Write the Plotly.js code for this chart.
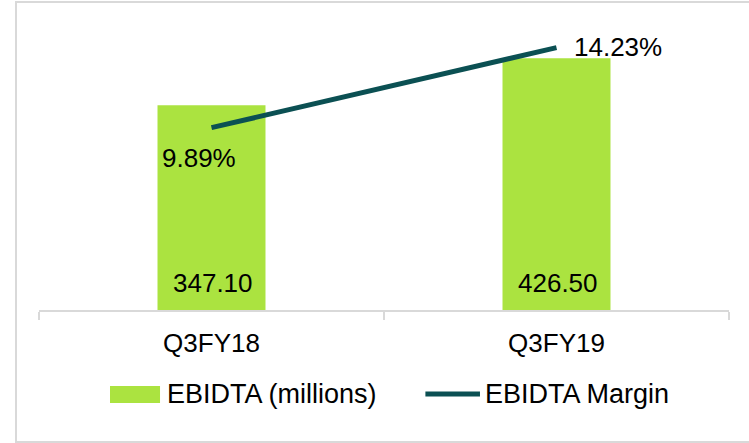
<!DOCTYPE html>
<html>
<head>
<meta charset="utf-8">
<script src="https://cdn.plot.ly/plotly-3.0.1.min.js"></script>
<style>
  html, body { margin: 0; padding: 0; background: #ffffff; }
  #chart { width: 749px; height: 443px; }
</style>
</head>
<body>
<div id="chart"></div>
<script>
// ---- data ----
var categories = ["Q3FY18", "Q3FY19"];
var ebidta = [347.10, 426.50];          // EBIDTA (millions)
var ebidtaMargin = [9.89, 14.23];       // EBIDTA Margin (%)
var seriesNames = ["EBIDTA (millions)", "EBIDTA Margin"];

// ---- styles ----
var FONT = "Liberation Sans, Arial, Helvetica, sans-serif";
var barColor = "#ABE340";
var lineColor = "#0B5053";
var gridGray = "#D9D9D9";
var labelSize = 26;
// label offsets for margin labels (px)
var marginLabelStyle = [
  {xshift: -13, yshift: -30, xanchor: "center"},
  {xshift: 15, yshift: 1, xanchor: "left"}
];

var traces = [
  {
    type: "bar",
    name: seriesNames[0],
    x: categories,
    y: ebidta,
    marker: {color: barColor},
    width: 0.313,
    yaxis: "y",
    hoverinfo: "skip",
    showlegend: false
  },
  {
    type: "scatter",
    mode: "lines",
    name: seriesNames[1],
    x: categories,
    y: ebidtaMargin,
    line: {color: lineColor, width: 5},
    yaxis: "y2",
    hoverinfo: "skip",
    showlegend: false
  }
];

var annotations = [];
categories.forEach(function (c, i) {
  annotations.push({
    x: c, y: 0, xref: "x", yref: "y",
    text: ebidta[i].toFixed(2),
    showarrow: false, yanchor: "middle", xanchor: "center",
    yshift: 27, xshift: 1,
    font: {family: FONT, size: labelSize, color: "#000000"}
  });
  var s = marginLabelStyle[i];
  annotations.push({
    x: c, y: ebidtaMargin[i], xref: "x", yref: "y2",
    text: ebidtaMargin[i].toFixed(2) + "%",
    showarrow: false, yanchor: "middle", xanchor: s.xanchor,
    xshift: s.xshift, yshift: s.yshift,
    font: {family: FONT, size: labelSize, color: "#000000"}
  });
});

// ---- legend (drawn as layout items) ----
var legendY = -0.2847;
annotations.push({
  xref: "paper", yref: "paper", x: 0.183, y: legendY,
  xanchor: "left", yanchor: "middle", showarrow: false,
  text: seriesNames[0],
  font: {family: FONT, size: 27, color: "#000000"}
});
annotations.push({
  xref: "paper", yref: "paper", x: 0.643, y: legendY,
  xanchor: "left", yanchor: "middle", showarrow: false,
  text: seriesNames[1],
  font: {family: FONT, size: 27, color: "#000000"}
});

var layout = {
  width: 749,
  height: 443,
  margin: {l: 39, r: 20, t: 15, b: 133, pad: 0},
  paper_bgcolor: "#ffffff",
  plot_bgcolor: "#ffffff",
  font: {family: FONT, size: 26, color: "#000000"},
  showlegend: false,
  xaxis: {
    type: "category",
    range: [-0.5, 1.5],
    showline: true,
    linecolor: gridGray,
    linewidth: 1.5,
    ticks: "outside",
    tickson: "boundaries",
    ticklen: 8,
    tickwidth: 1.5,
    tickcolor: gridGray,
    showgrid: false,
    zeroline: false,
    tickfont: {family: FONT, size: 26, color: "#000000"},
    ticklabelstandoff: 9,
    fixedrange: true
  },
  yaxis: {
    range: [0, 500],
    visible: false,
    showgrid: false,
    zeroline: false,
    fixedrange: true
  },
  yaxis2: {
    range: [0, 16],
    overlaying: "y",
    side: "right",
    visible: false,
    showgrid: false,
    zeroline: false,
    fixedrange: true
  },
  annotations: annotations,
  shapes: [
    {
      type: "rect", xref: "paper", yref: "paper",
      x0: -0.0333, x1: 1.06, y0: -0.4475, y1: 1.044,
      line: {color: gridGray, width: 2},
      fillcolor: "rgba(0,0,0,0)",
      layer: "below"
    },
    {
      type: "rect", xref: "paper", yref: "paper",
      x0: 0.1029, x1: 0.1754, y0: -0.3153, y1: -0.2576,
      line: {width: 0},
      fillcolor: barColor
    },
    {
      type: "line", xref: "paper", yref: "paper",
      x0: 0.5600, x1: 0.6391, y0: legendY, y1: legendY,
      line: {color: lineColor, width: 5}
    }
  ]
};

Plotly.newPlot("chart", traces, layout, {displayModeBar: false, staticPlot: true});
</script>
</body>
</html>
